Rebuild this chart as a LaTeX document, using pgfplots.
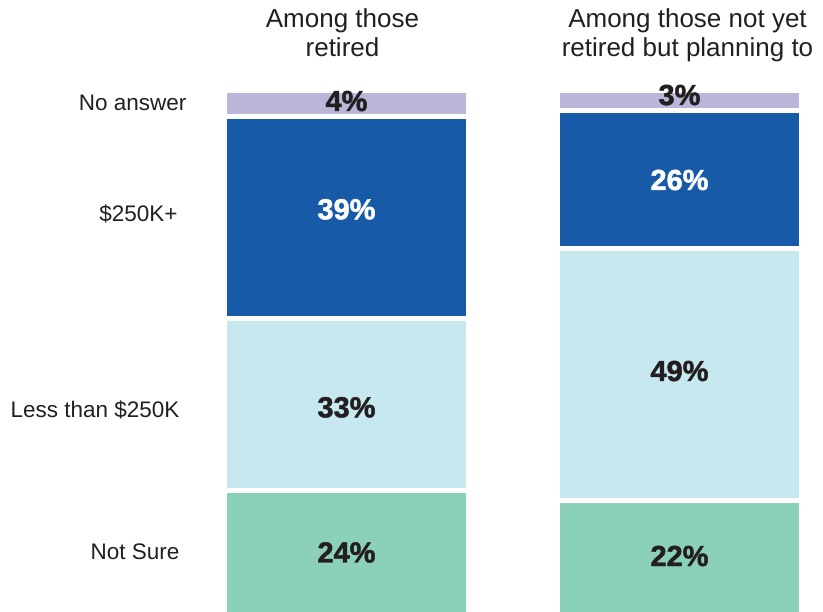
\documentclass[border=0pt]{standalone}
\usepackage{pgfplots}
\pgfplotsset{compat=1.18}
\usepackage{fontspec}
\setmainfont{Liberation Sans}
\newfontfamily\heavy{Liberation Sans}[BoldFeatures={FakeBold=1.6}]

\definecolor{noans}{HTML}{B9B6DA}
\definecolor{plus}{HTML}{175AA8}
\definecolor{less}{HTML}{C8E8EF}
\definecolor{notsure}{HTML}{8BD0B8}
\definecolor{ink}{HTML}{231F20}

\tikzset{
    seg/.style={draw=white, line width=5bp},
    lab/.style={text=ink, font=\fontsize{22.5bp}{27bp}\selectfont, anchor=base east},
    ttl/.style={text=ink, font=\fontsize{26bp}{29bp}\selectfont, anchor=base},
    pct/.style={font=\fontsize{29bp}{32bp}\heavy\bfseries, anchor=base},
}

\begin{document}
\begin{tikzpicture}
% axis reaches 6bp below the page so the bottom white stroke is cut off
\begin{axis}[
    at={(0,-6bp)}, anchor=south west,
    width=823bp, height=618bp, scale only axis,
    hide axis,
    xmin=-1.04054, xmax=1.43093,
    ymin=-0.649, ymax=117.27,
    ybar stacked, bar width=0.73273,
    clip mode=individual,
]
% bar heights (percent)
\addplot[seg, fill=notsure] coordinates {(0,23.6) (1,21.8)};
\addplot[seg, fill=less]    coordinates {(0,32.9) (1,48.1)};
\addplot[seg, fill=plus]    coordinates {(0,38.6) (1,26.2)};
\addplot[seg, fill=noans]   coordinates {(0,4.9)  (1,3.9)};

% anchor points for the texts
\coordinate (t1) at (rel axis cs:0.41616,0.95469);
\coordinate (t2) at (rel axis cs:0.41616,0.90777);
\coordinate (t3) at (rel axis cs:0.83536,0.95469);
\coordinate (t4) at (rel axis cs:0.83536,0.90777);
\coordinate (c1) at (rel axis cs:0.23086,0.82087);
\coordinate (c2) at (rel axis cs:0.21993,0.64126);
\coordinate (c3) at (rel axis cs:0.22236,0.32476);
\coordinate (c4) at (rel axis cs:0.22236,0.09385);
\coordinate (a1) at (rel axis cs:0.42102,0.82039);
\coordinate (a2) at (rel axis cs:0.42102,0.64515);
\coordinate (a3) at (rel axis cs:0.42102,0.32476);
\coordinate (a4) at (rel axis cs:0.42102,0.08981);
\coordinate (b1) at (rel axis cs:0.82564,0.83010);
\coordinate (b2) at (rel axis cs:0.82564,0.69256);
\coordinate (b3) at (rel axis cs:0.82564,0.38350);
\coordinate (b4) at (rel axis cs:0.82564,0.08414);
\end{axis}

% titles
\node[ttl] at (t1) {Among those};
\node[ttl] at (t2) {retired};
\node[ttl] at (t3) {Among those not yet};
\node[ttl] at (t4) {retired but planning to};

% category labels
\node[lab] at (c1) {No answer};
\node[lab] at (c2) {\$250K+};
\node[lab] at (c3) {Less than \$250K};
\node[lab] at (c4) {Not Sure};

% values
\node[pct, text=ink]   at (a1) {4\%};
\node[pct, text=white] at (a2) {39\%};
\node[pct, text=ink]   at (a3) {33\%};
\node[pct, text=ink]   at (a4) {24\%};
\node[pct, text=ink]   at (b1) {3\%};
\node[pct, text=white] at (b2) {26\%};
\node[pct, text=ink]   at (b3) {49\%};
\node[pct, text=ink]   at (b4) {22\%};

\pgfresetboundingbox
\path[use as bounding box] ([yshift=6bp]current axis.south west) rectangle (current axis.north east);
\end{tikzpicture}
\end{document}
